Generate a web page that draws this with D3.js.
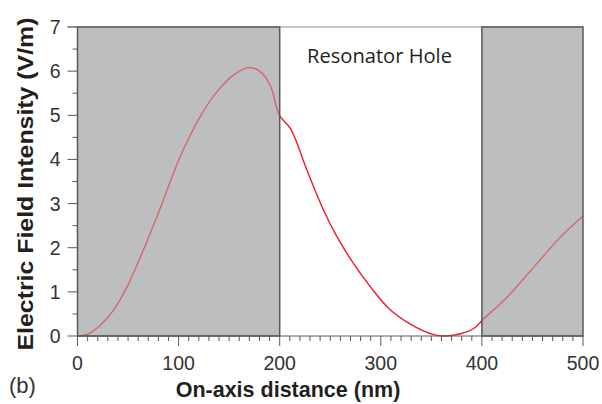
<!DOCTYPE html>
<html>
<head>
<meta charset="utf-8">
<script src="https://cdn.jsdelivr.net/npm/d3@7"></script>
<style>
  body { margin: 0; background: #fff; }
</style>
</head>
<body>
<div id="chart"></div>
<script>
// data
const distance = [0, 10.7, 22.3, 35.5, 48.7, 60.2, 70.1, 83.3, 101.5, 121.3, 137.8, 154.3, 169.1, 180.7, 190.6, 199.8,
                  211.1, 226.9, 243.4, 256.6, 273.1, 289.6, 307.7, 329.2, 352.3, 362, 378.7, 391.9, 401.8, 425, 451.3, 477.7, 500];
const intensity = [0, 0.05, 0.24, 0.58, 1.1, 1.68, 2.22, 2.98, 4.06, 4.97, 5.53, 5.91, 6.08, 5.99, 5.68, 5.0,
                   4.68, 3.76, 2.85, 2.25, 1.64, 1.12, 0.63, 0.27, 0.03, 0.0, 0.05, 0.17, 0.39, 0.88, 1.56, 2.24, 2.72];
const slabs = [[0, 200], [400, 500]];
const xTicks = [0, 100, 200, 300, 400, 500];
const yTicks = [0, 1, 2, 3, 4, 5, 6, 7];

const width = 602, height = 404;
const margin = {top: 27, right: 19, bottom: 68, left: 77.5};
const w = width - margin.left - margin.right;
const h = height - margin.top - margin.bottom;
const sans = "'Liberation Sans', Arial, sans-serif";

const svg = d3.select("#chart")
    .append("svg")
    .attr("width", width)
    .attr("height", height)
    .style("font-family", sans);

const g = svg.append("g")
    .attr("transform", "translate(" + margin.left + "," + margin.top + ")");

const x = d3.scaleLinear().domain([0, 500]).range([0, w]);
const y = d3.scaleLinear().domain([0, 7]).range([h, 0]);

const pts = distance.map((d, i) => ({x: d, y: intensity[i]}));

// gray slabs underneath
g.selectAll("rect.slab")
    .data(slabs)
    .enter()
    .append("rect")
    .attr("class", "slab")
    .attr("x", d => x(d[0]))
    .attr("width", d => x(d[1]) - x(d[0]))
    .attr("y", 0)
    .attr("height", h)
    .attr("fill", "#bcbec0");

// top border
g.append("line")
    .attr("x1", -10).attr("x2", w)
    .attr("y1", 0).attr("y2", 0)
    .attr("stroke", "#8a8b8d")
    .attr("stroke-width", 1.2);

// curve
const line = d3.line()
    .x(d => x(d.x))
    .y(d => y(d.y))
    .curve(d3.curveCatmullRom.alpha(0.5));

g.append("path")
    .datum(pts)
    .attr("fill", "none")
    .attr("stroke", "#ee1c24")
    .attr("stroke-width", 1.4)
    .attr("d", line);

// translucent overlay so the line looks dimmed inside the slabs
g.selectAll("rect.veil")
    .data(slabs)
    .enter()
    .append("rect")
    .attr("class", "veil")
    .attr("x", d => x(d[0]))
    .attr("width", d => x(d[1]) - x(d[0]))
    .attr("y", 0)
    .attr("height", h)
    .attr("fill", "#bcbec0")
    .attr("fill-opacity", 0.45)
    .attr("stroke", "#58595b")
    .attr("stroke-width", 1.5);

// x axis
const xAxis = g.append("g").attr("transform", "translate(0," + h + ")");
xAxis.append("line")
    .attr("x1", 0).attr("x2", w)
    .attr("stroke", "#58595b").attr("stroke-width", 1.2);
xAxis.selectAll("line.minor")
    .data(d3.range(0, 501, 10))
    .enter()
    .append("line")
    .attr("x1", d => x(d)).attr("x2", d => x(d))
    .attr("y1", 0).attr("y2", d => d % 100 === 0 ? 10 : 5)
    .attr("stroke", "#58595b").attr("stroke-width", 1);
xAxis.selectAll("text")
    .data(xTicks)
    .enter()
    .append("text")
    .attr("x", d => x(d))
    .attr("y", 34)
    .attr("text-anchor", "middle")
    .attr("font-size", 19.5)
    .attr("fill", "#333")
    .text(d => d);

// y axis
const yAxis = g.append("g");
yAxis.selectAll("line.tick")
    .data(d3.range(0, 7.01, 0.5))
    .enter()
    .append("line")
    .attr("y1", d => y(d)).attr("y2", d => y(d))
    .attr("x1", d => d % 1 === 0 ? -10 : -5).attr("x2", 0)
    .attr("stroke", "#58595b").attr("stroke-width", 1);
yAxis.selectAll("text")
    .data(yTicks)
    .enter()
    .append("text")
    .attr("x", -17)
    .attr("y", d => y(d))
    .attr("dy", "0.36em")
    .attr("text-anchor", "end")
    .attr("font-size", 19.5)
    .attr("fill", "#333")
    .text(d => d);

// labels
svg.append("text")
    .attr("transform", "translate(33," + 184 + ") rotate(-90)")
    .attr("text-anchor", "middle")
    .attr("font-size", 22)
    .attr("font-weight", "bold")
    .attr("fill", "#231f20")
    .attr("textLength", 333)
    .attr("lengthAdjust", "spacingAndGlyphs")
    .text("Electric Field Intensity (V/m)");

svg.append("text")
    .attr("x", 288)
    .attr("y", 397)
    .attr("text-anchor", "middle")
    .attr("font-size", 21.5)
    .attr("font-weight", "bold")
    .attr("fill", "#231f20")
    .text("On-axis distance (nm)");

svg.append("text")
    .attr("x", 9)
    .attr("y", 393)
    .attr("font-size", 22)
    .attr("fill", "#333")
    .text("(b)");

svg.append("text")
    .attr("x", 307)
    .attr("y", 63)
    .style("font-family", "'Open Sans', sans-serif")
    .attr("font-size", 19.5)
    .attr("textLength", 145)
    .attr("lengthAdjust", "spacingAndGlyphs")
    .attr("fill", "#231f20")
    .text("Resonator Hole");
</script>
</body>
</html>
